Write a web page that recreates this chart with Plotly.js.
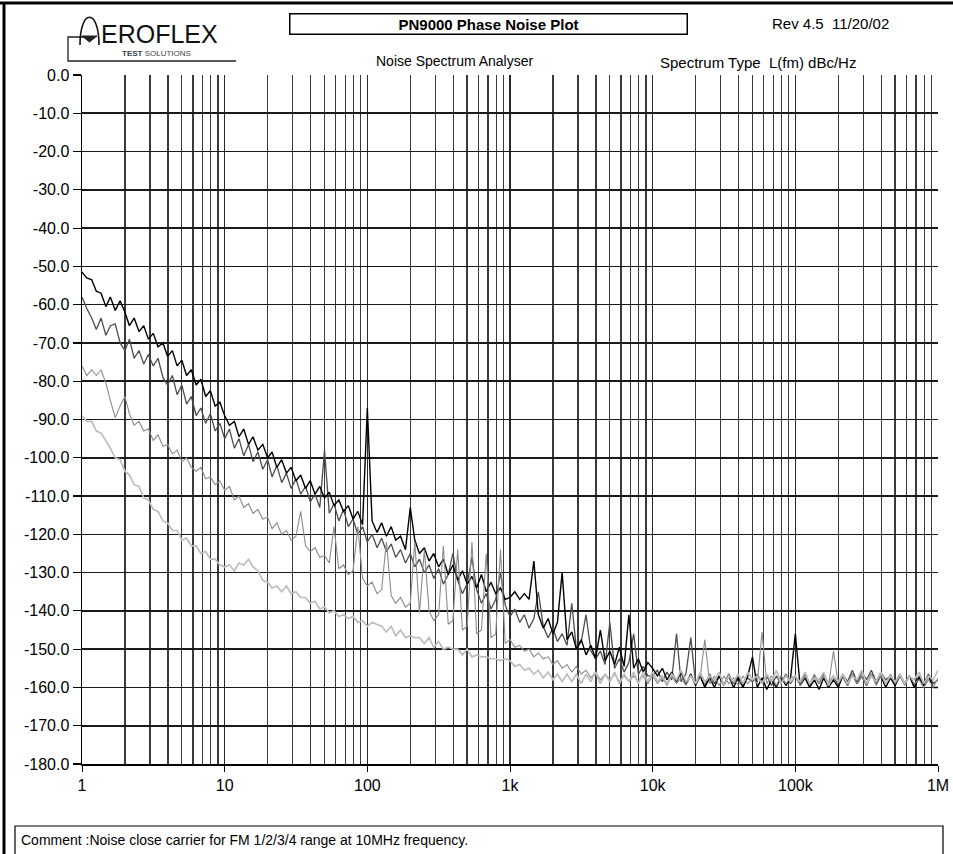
<!DOCTYPE html>
<html>
<head>
<meta charset="utf-8">
<script src="https://cdn.plot.ly/plotly-3.0.1.min.js"></script>
<style>
html,body{margin:0;padding:0;background:#fff;}
#chart{width:953px;height:854px;}
</style>
</head>
<body>
<div id="chart"></div>
<script>
// Offset frequency (Hz)
const freq = [
1,1.08,1.17,1.26,1.36,1.47,1.58,1.71,1.85,2.0,2.15,2.32,2.51,2.71,2.92,3.16,3.41,3.69,3.98,4.3,4.64,5.01,5.41,5.84,6.31,6.81,7.36,7.94,8.58,9.26,
10,10.8,11.7,12.6,13.6,14.7,15.8,17.1,18.5,20,21.5,23.2,25.1,27.1,29.2,31.6,34.1,36.9,39.8,43,46.4,50.1,54.1,58.4,63.1,68.1,73.6,79.4,85.8,92.6,
100,108,117,126,136,147,158,171,185,200,215,232,251,271,292,316,341,369,398,430,464,501,541,584,631,681,736,794,858,926,
1000,1080,1170,1260,1360,1470,1580,1710,1850,2000,2150,2320,2510,2710,2920,3160,3410,3690,3980,4300,4640,5010,5410,5840,6310,6810,7360,7940,8580,9260,
10000,10800,11700,12600,13600,14700,15800,17100,18500,20000,21500,23200,25100,27100,29200,31600,34100,36900,39800,43000,46400,50100,54100,58400,63100,68100,73600,79400,85800,92600,
100000,108000,117000,126000,136000,147000,158000,171000,185000,200000,215000,232000,251000,271000,292000,316000,341000,369000,398000,430000,464000,501000,541000,584000,631000,681000,736000,794000,858000,926000,1000000
];

// FM range 1 (black), dBc/Hz
const fm1 = [
-51.5,-53,-53.5,-56.5,-57,-60.5,-58,-61.5,-59,-62,-65.5,-63.5,-67,-65.5,-69,-67.5,-71,-70,-73.5,-72,-76,-74.5,-78.5,-77,-81,-79.5,-84,-82.5,-86.5,-85.5,
-89,-91.5,-90.5,-94.5,-92.5,-96.5,-94.5,-98,-96.5,-100,-98.5,-102.5,-100.5,-104,-102.5,-106,-104.5,-108,-106,-109.5,-107.5,-110.5,-109,-112.5,-111,-114,-112.5,-116,-114,-117.5,
-87,-116.5,-119.5,-117,-120.5,-118,-121.5,-120.5,-124,-113,-121.5,-125,-123.5,-127,-125,-128.5,-126.5,-130.5,-128,-132,-129.5,-133,-131,-134,-130.5,-135,-132.5,-135.5,-134,-137,
-136.5,-135,-137,-135.5,-137,-127,-141,-144.5,-142,-146,-143,-130,-147.5,-145.5,-150,-147.5,-151.5,-149,-152.5,-145,-153,-150.5,-154,-149.5,-154.5,-141,-155,-152.5,-156,-153.5,
-155,-157,-155,-158,-156,-158.5,-156,-159,-156.5,-159.5,-157,-160,-157.5,-160,-157,-159.5,-157,-160,-157.5,-160,-157,-152,-160,-157.5,-160.5,-158,-160,-157,-159.5,-157.5,
-146,-159.5,-157.5,-160,-158,-160.5,-157.5,-160,-158,-160,-157,-159.5,-156.5,-159,-157,-159.5,-156.5,-159,-157,-160,-157.5,-159.5,-157,-159,-157,-160,-157.5,-159.5,-157,-160,-160
];

// FM range 2 (dark grey)
const fm2 = [
-58,-61,-63.5,-66.5,-63.5,-68,-65.5,-65,-70,-72,-69,-74,-72,-75.5,-73,-76,-74,-79,-81,-78.5,-83.5,-81,-86,-84,-89,-87,-91,-88.5,-93,-91,
-95,-92.5,-97.5,-95,-99.5,-96.5,-101,-98.5,-103,-100.5,-105,-102,-106.5,-104,-108,-105.5,-109.5,-107.5,-111.5,-109.5,-113,-98,-114.5,-112,-116.5,-113.5,-118,-116,-120,-118,
-122,-120,-123.5,-121,-124.5,-122.5,-126,-124,-127.5,-125,-128.5,-126.5,-130,-128,-131.5,-129,-133,-130.5,-125,-132,-135.5,-133,-126,-134.5,-138,-135.5,-139.5,-137,-130,-138.5,
-141.5,-139.5,-143,-141,-144.5,-142,-135,-144,-147,-144.5,-148,-146,-149,-138,-150,-148,-141,-150.5,-152.5,-150.5,-154,-143,-155,-152.5,-156,-153.5,-146,-156.5,-154.5,-157,
-157,-155.5,-158.5,-156,-158,-146,-158.5,-156.5,-147,-159,-157,-159.5,-156.5,-159,-157,-159.5,-156.5,-159,-157,-159.5,-157.5,-158.5,-156.5,-159,-157,-159.5,-157,-159,-156.5,-159,
-157,-159,-156.5,-159.5,-157,-159,-156.5,-159,-157,-159.5,-156.5,-158.5,-155.5,-158.5,-156,-158,-155.5,-158.5,-156,-158,-157,-159,-156.5,-159,-157,-159.5,-157,-159,-156.5,-159,-158
];

// FM range 3 (mid grey)
const fm3 = [
-76,-78.5,-77,-78.5,-77,-80.5,-85,-89.5,-86.5,-84,-88.5,-91.5,-90.5,-93,-92.5,-95.5,-94,-97,-96.5,-99,-98,-101,-100,-102.5,-103.5,-102.5,-105.5,-105,-107,-106,
-108.5,-107.5,-111,-110,-113,-112,-114.5,-113.5,-116,-115.5,-118.5,-117,-120,-119,-121.5,-120.5,-114,-123,-124.5,-123.5,-126,-125.5,-127.5,-118,-129,-128,-130.5,-129.5,-118,-131.5,
-133.5,-132.5,-135.5,-134.5,-122,-136,-138,-136.5,-139,-138,-122,-140.5,-124,-140,-142.5,-141,-123,-143.5,-142.5,-124,-145,-144,-122,-146,-145,-125,-147,-146,-124,-148.5,
-147.5,-149.5,-149,-150.5,-150,-152,-151,-152.5,-152,-154,-153,-155,-154,-156,-154.5,-156.5,-155.5,-157.5,-156,-158,-156.5,-158,-156.5,-158.5,-157,-158.5,-157,-158.5,-157,-159,
-157,-159,-157.5,-159.5,-157,-159,-157.5,-159.5,-157,-159,-157.5,-147.5,-159,-157,-159.5,-157,-159,-157.5,-159.5,-157,-159,-157.5,-159,-145.5,-159,-157,-159.5,-157,-159,-157.5,
-157,-159.5,-157,-159,-156.5,-159,-157,-159.5,-150.5,-159,-157,-159.5,-156.5,-159,-157,-159.5,-156.5,-159.5,-157,-159,-156.5,-159,-157,-159.5,-157,-159,-158,-160,-158,-160,-157.5
];

// FM range 4 (light grey)
const fm4 = [
-89,-90.5,-90.5,-93,-93.5,-95.5,-97.5,-100,-100.5,-103.5,-104.5,-107,-107.5,-110.5,-111,-113.5,-114,-116.5,-117,-119,-119,-121.5,-121,-123,-123,-125,-124.5,-126.5,-126.5,-128,
-128.5,-128,-129.5,-127.5,-128,-126.5,-128.5,-129.5,-132,-132.5,-134,-133.5,-135,-133.5,-135.5,-135,-136.5,-136.5,-138,-137.5,-139.5,-139,-140.5,-140,-141.5,-141,-142,-141.5,-143,-142.5,
-144,-143,-143.5,-144,-145.5,-144,-146.5,-145,-147,-146.5,-147,-147,-148.5,-147,-149.5,-148,-150,-149.5,-150,-150,-151.5,-150,-152,-151.5,-152,-152,-152.5,-152.5,-153,-152.5,
-153,-154.5,-154,-155.5,-155,-156.5,-155.5,-157.5,-156,-158,-156.5,-158.5,-156.5,-158.5,-156.5,-159,-156.5,-158.5,-156,-159,-156.5,-158.5,-156,-159,-156.5,-158.5,-156,-159,-156,-158.5,
-156,-158.5,-157,-159,-156.5,-158,-155.5,-158.5,-157,-159,-156,-158.5,-157,-158,-156,-159.5,-157,-158.5,-156.5,-159,-156,-158,-157,-159,-156.5,-158.5,-155.5,-159,-157,-158.5,
-157,-158.5,-156,-159,-157.5,-158,-156,-159.5,-157,-158.5,-156.5,-159,-157,-158,-155.5,-159,-157,-158.5,-156,-159,-157,-158.5,-156.5,-159,-157,-158,-156,-159,-157,-158,-155.5
];

const seriesNames = ['FM 1','FM 2','FM 3','FM 4'];
const seriesColors = ['#000000','#4d4d4d','#8c8c8c','#bdbdbd'];
const seriesWidths = [1.4, 1.3, 1.1, 1.7];

const xTickVals = [1,10,100,1000,10000,100000,1000000];
const xTickText = ['1','10','100','1k','10k','100k','1M'];
const yTickVals = [0,-10,-20,-30,-40,-50,-60,-70,-80,-90,-100,-110,-120,-130,-140,-150,-160,-170,-180];

// ---- layout helpers (pixel -> paper) ----
const W = 953, H = 854, ML = 82, MR = 15, MT = 75, MB = 90;
const PW = W - ML - MR, PH = H - MT - MB;
const px = p => (p - ML) / PW;
const py = p => (H - MB - p) / PH;
const pt = (a, b) => px(a).toFixed(5) + ',' + py(b).toFixed(5);

const minorVals = [];
for (let d = 0; d < 6; d++) for (let k = 2; k <= 9; k++) minorVals.push(k * Math.pow(10, d));

const FONT = "'Liberation Sans Narrow', 'Arial Narrow', 'Liberation Sans', Arial, sans-serif";

const dataOrder = [1, 0, 2, 3];
const series = [fm1, fm2, fm3, fm4];
const traces = dataOrder.map(i => ({
  x: freq, y: series[i], type: 'scatter', mode: 'lines', name: seriesNames[i],
  line: {color: seriesColors[i], width: seriesWidths[i]}, hoverinfo: 'skip'
}));

const shapes = [
  // outer frame (top & left)
  {type:'line', xref:'paper', yref:'paper', x0:px(0), x1:px(953), y0:py(3), y1:py(3), line:{color:'#000', width:3}},
  {type:'line', xref:'paper', yref:'paper', x0:px(4), x1:px(4), y0:py(2), y1:py(854), line:{color:'#000', width:3}},
  // comment box
  {type:'rect', xref:'paper', yref:'paper', x0:px(15), x1:px(943), y0:py(826), y1:py(870), line:{color:'#000', width:1.2}},
  // logo bracket
  {type:'path', xref:'paper', yref:'paper', path:'M' + pt(84,37) + 'L' + pt(68,37) + 'L' + pt(68,61) + 'L' + pt(236,61), line:{color:'#222', width:1.3}},
  // logo arc "A"
  {type:'path', xref:'paper', yref:'paper', path:'M' + pt(80,45) + 'C' + pt(80,8) + ' ' + pt(99,8) + ' ' + pt(99,45), line:{color:'#111', width:1.6}},
  // logo triangle
  {type:'path', xref:'paper', yref:'paper', path:'M' + pt(82,36) + 'L' + pt(97,36) + 'L' + pt(89.5,42) + 'Z', fillcolor:'#222', line:{color:'#222', width:1}}
];

const annotations = [
  {text:'<b>PN9000 Phase Noise Plot</b>', xref:'paper', yref:'paper', x:px(488), y:py(24), xanchor:'center', yanchor:'middle',
   showarrow:false, font:{family:FONT, size:15, color:'#000'}, bordercolor:'#000', borderwidth:1.5, borderpad:1, width:394, height:17},
  {text:'Rev 4.5  11/20/02', xref:'paper', yref:'paper', x:px(770), y:py(23), xanchor:'left', yanchor:'middle', showarrow:false,
   font:{family:FONT, size:15, color:'#000'}},
  {text:'Noise Spectrum Analyser', xref:'paper', yref:'paper', x:px(455), y:py(61), xanchor:'center', yanchor:'middle', showarrow:false,
   font:{family:FONT, size:14, color:'#000'}},
  {text:'Spectrum Type  L(fm) dBc/Hz', xref:'paper', yref:'paper', x:px(658), y:py(62), xanchor:'left', yanchor:'middle', showarrow:false,
   font:{family:FONT, size:15, color:'#000'}},
  {text:'Comment :Noise close carrier for FM 1/2/3/4 range at 10MHz frequency.', xref:'paper', yref:'paper', x:px(19), y:py(840),
   xanchor:'left', yanchor:'middle', showarrow:false, font:{family:FONT, size:14, color:'#000'}},
  {text:'EROFLEX', xref:'paper', yref:'paper', x:px(99), y:py(34), xanchor:'left', yanchor:'middle', showarrow:false,
   font:{family:"'Liberation Sans', Arial, sans-serif", size:25, color:'#111'}},
  {text:'<b>TEST</b> SOLUTIONS', xref:'paper', yref:'paper', x:px(156), y:py(53), xanchor:'center', yanchor:'middle', showarrow:false,
   font:{family:"'Liberation Sans', Arial, sans-serif", size:8, color:'#444'}}
];

const layout = {
  width: W, height: H,
  margin: {l: ML, r: MR, t: MT, b: MB, pad: 0},
  paper_bgcolor: '#fff', plot_bgcolor: '#fff',
  showlegend: false,
  font: {family: FONT, color: '#000'},
  xaxis: {
    type: 'log', range: [0, 6], tickvals: xTickVals, ticktext: xTickText,
    ticks: 'outside', ticklen: 6, tickwidth: 1, tickcolor: '#000',
    showgrid: true, gridcolor: '#2a2a2a', gridwidth: 1.3,
    showline: true, linecolor: '#000', linewidth: 1.5, zeroline: false,
    tickfont: {family: FONT, size: 16, color: '#000'},
    minor: {tickvals: minorVals, showgrid: true, gridcolor: '#3a3a3a', gridwidth: 1.3, ticks: ''}
  },
  yaxis: {
    range: [-180, 0], tickvals: yTickVals, ticktext: yTickVals.map(v => v.toFixed(1)),
    ticks: 'outside', ticklen: 8, tickwidth: 1.2, tickcolor: '#000',
    showgrid: true, gridcolor: '#1a1a1a', gridwidth: 1.6,
    showline: true, linecolor: '#000', linewidth: 1.5, zeroline: false,
    tickfont: {family: FONT, size: 16, color: '#000'}
  },
  shapes: shapes,
  annotations: annotations
};

Plotly.newPlot('chart', traces, layout, {displayModeBar: false, staticPlot: true});
</script>
</body>
</html>
